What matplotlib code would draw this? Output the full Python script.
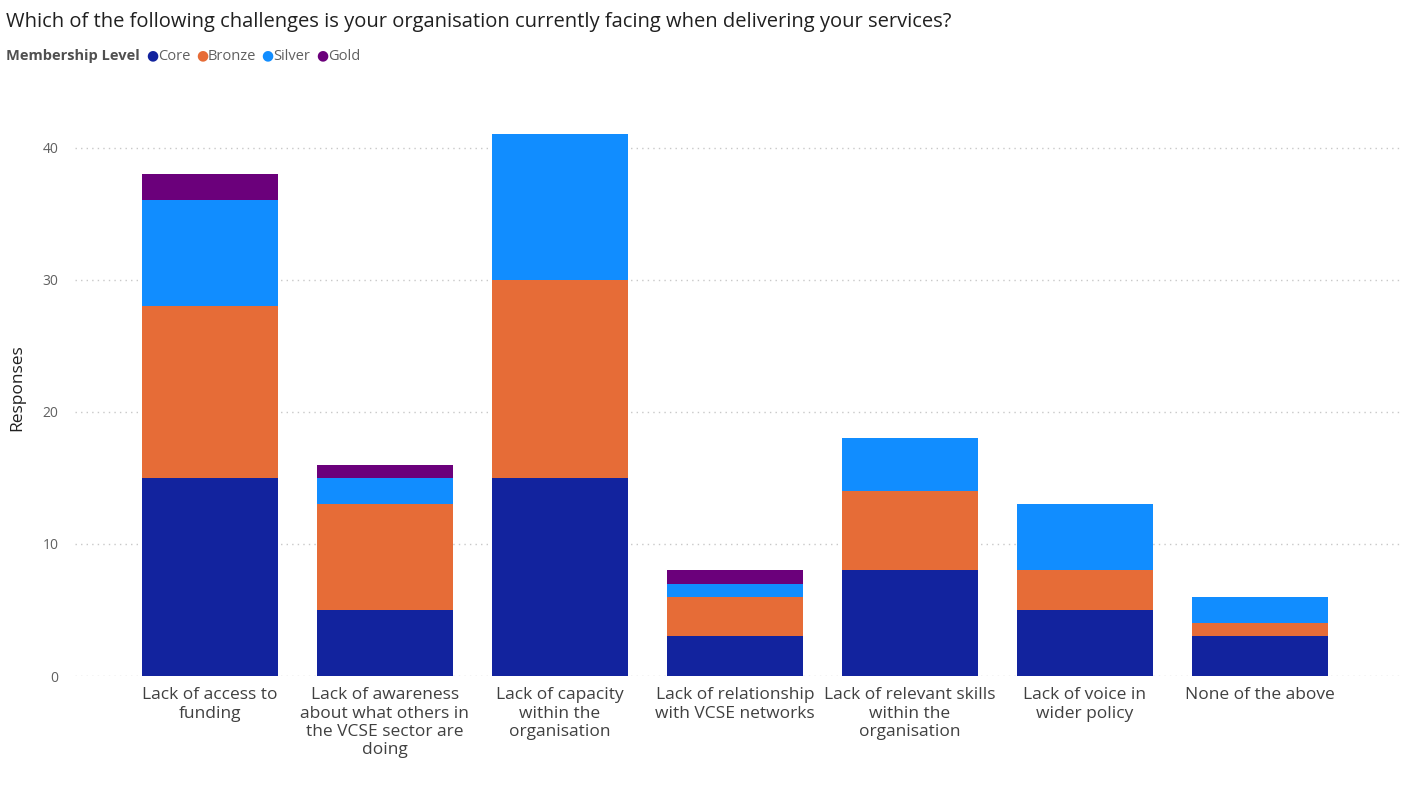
import matplotlib
matplotlib.use("Agg")
import matplotlib.pyplot as plt
import numpy as np

categories = ["Lack of access to\nfunding", "Lack of awareness\nabout what others in\nthe VCSE sector are\ndoing",
              "Lack of capacity\nwithin the\norganisation", "Lack of relationship\nwith VCSE networks",
              "Lack of relevant skills\nwithin the\norganisation", "Lack of voice in\nwider policy", "None of the above"]
core = [15, 5, 15, 3, 8, 5, 3]
bronze = [13, 8, 15, 3, 6, 3, 1]
silver = [8, 2, 11, 1, 4, 5, 2]
gold = [2, 1, 0, 1, 0, 0, 0]
series_names = ["Core", "Bronze", "Silver", "Gold"]
colors = ["#12239E", "#E66C37", "#118DFF", "#6B007B"]
yticks = [0, 10, 20, 30, 40]

plt.rcParams['font.family'] = ['Open Sans', 'DejaVu Sans']
fig = plt.figure(figsize=(14.06, 8.02), dpi=100)
ax = fig.add_axes([75/1406, 126/802, 1325/1406, 576/802])
x = np.arange(len(categories))
bottom = np.zeros(len(categories))
for name, vals, c in zip(series_names, [core, bronze, silver, gold], colors):
    ax.bar(x, vals, bottom=bottom, width=0.78, color=c, label=name)
    bottom += np.array(vals)
ax.set_xlim(-0.77, 6.8)
ax.set_ylim(0, 43.6)
ax.set_yticks(yticks)
ax.set_xticks(x)
ax.set_xticklabels(categories, fontsize=12.5, color="#404040", va="top")
ax.tick_params(axis='x', length=0, pad=8)
ax.tick_params(axis='y', length=0, labelsize=10, colors="#606060", pad=12)
ax.yaxis.grid(True, linestyle=(0, (1, 3)), color="#c8c8c8", linewidth=1)
ax.set_axisbelow(True)
for s in ax.spines.values():
    s.set_visible(False)
ax.set_ylabel("Responses", fontsize=12.5, color="#202020", labelpad=12)

fig.text(6/1406, 1 - 22/802, "Which of the following challenges is your organisation currently facing when delivering your services?",
         fontsize=14.5, color="#202020", va="center")
fig.text(6/1406, 1 - 56/802, "Membership Level", fontsize=10.5, fontweight="bold", color="#505050", va="center")
xs = [146, 196, 261, 316]
for name, c, xp in zip(series_names, colors, xs):
    fig.text(xp/1406, 1 - 56/802, "\u25CF", color=c, fontsize=10, va="center")
    fig.text((xp + 12)/1406, 1 - 56/802, name, color="#606060", fontsize=10.5, va="center")

fig.savefig("out.png", dpi=100)
